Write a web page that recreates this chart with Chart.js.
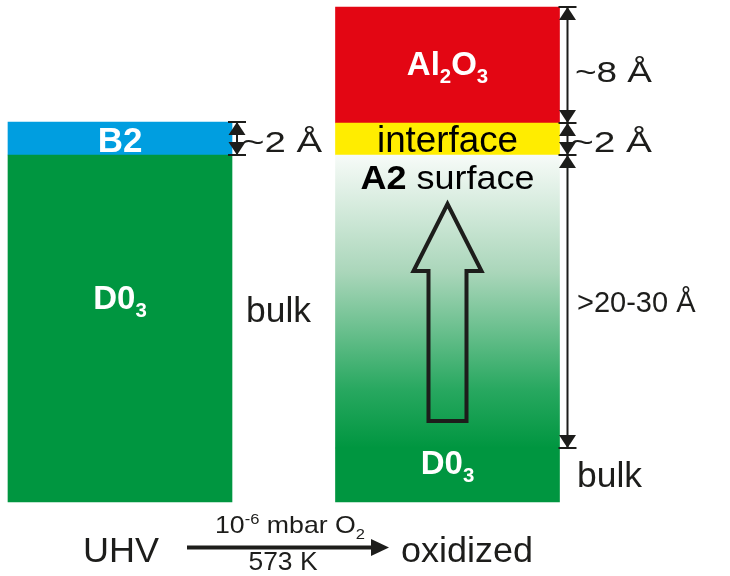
<!DOCTYPE html>
<html lang="en">
<head>
  <meta charset="utf-8">
  <title>UHV vs oxidized layer stack</title>
  <style>
    html, body { margin: 0; padding: 0; background: #fff; }
    #wrap { width: 730px; height: 576px; }
  </style>
</head>
<body>
  <div id="wrap"><canvas id="chart"></canvas></div>
  <script src="https://cdn.jsdelivr.net/npm/chart.js@4"></script>
  <script>
    // columns: 0 = UHV, 1 = oxidized
    var columns = ['UHV', 'oxidized'];
    // layers (depth in diagram units, 0 = top of the picture)
    var layerNames = ['B2', 'D0_3', 'Al_2O_3', 'interface', '*A2* surface', 'D0_3'];
    var layerColumn = [0, 0, 1, 1, 1, 1];
    var layerTop = [122, 155, 7, 123, 155, 448];
    var layerBottom = [155, 502, 123, 155, 448, 502];
    var thicknessLeft = ['~2 Å'];
    var thicknessRight = ['~8 Å', '~2 Å', '>20-30 Å'];
    var bulkLabel = 'bulk';
    var processTop = '10^-6 mbar O_2';
    var processBottom = '573 K';

    var FONT = '"Liberation Sans", Arial, sans-serif';
    var INK = '#1d1d1b';
    var layerColors = ['#009ee0', '#009640', '#e30613', '#ffed00', 'gradient', '#009640'];

    // split "Al_2O_3", "10^-6", "*A2*" into runs
    function parseRich(str) {
      var out = [], bold = false, i = 0;
      while (i < str.length) {
        var ch = str[i];
        if (ch === '*') { bold = !bold; i++; continue; }
        if (ch === '_') { out.push({ t: str[i + 1], mode: 'sub', bold: bold }); i += 2; continue; }
        if (ch === '^') {
          var j = i + 1, s = '';
          while (j < str.length && str[j] !== ' ') { s += str[j]; j++; }
          out.push({ t: s, mode: 'sup', bold: bold }); i = j; continue;
        }
        var last = out[out.length - 1];
        if (last && last.mode === 'n' && last.bold === bold) last.t += ch;
        else out.push({ t: ch, mode: 'n', bold: bold });
        i++;
      }
      return out;
    }

    function drawRich(ctx, str, x, y, o) {
      var runs = parseRich(str);
      var total = 0;
      runs.forEach(function (r) {
        var sz = r.mode === 'n' ? o.size : o.size * 0.62;
        r.font = ((o.bold || r.bold) ? 'bold ' : '') + sz + 'px ' + FONT;
        ctx.font = r.font;
        r.w = ctx.measureText(r.t).width;
        r.dy = r.mode === 'sub' ? o.size * 0.24 : (r.mode === 'sup' ? -o.size * 0.38 : 0);
        total += r.w;
      });
      var sx = o.width ? o.width / total : 1;
      var cx = o.align === 'center' ? x - total * sx / 2 : x;
      ctx.fillStyle = o.color || INK;
      ctx.textBaseline = 'alphabetic';
      ctx.textAlign = 'left';
      runs.forEach(function (r) {
        ctx.save();
        ctx.font = r.font;
        ctx.translate(cx, y + r.dy);
        ctx.scale(sx, 1);
        ctx.fillText(r.t, 0, 0);
        ctx.restore();
        cx += r.w * sx;
      });
    }

    function tri(ctx, x, tipY, dir, w, h) {
      // dir -1: pointing up, +1: pointing down
      ctx.beginPath();
      ctx.moveTo(x, tipY);
      ctx.lineTo(x - w / 2, tipY - dir * h);
      ctx.lineTo(x + w / 2, tipY - dir * h);
      ctx.closePath();
      ctx.fill();
    }

    function dimension(ctx, x, ys) {
      ctx.save();
      ctx.strokeStyle = INK;
      ctx.fillStyle = INK;
      ctx.lineWidth = 2;
      ctx.beginPath();
      ctx.moveTo(x, ys[0]);
      ctx.lineTo(x, ys[ys.length - 1]);
      ctx.stroke();
      ys.forEach(function (y, k) {
        ctx.beginPath();
        ctx.moveTo(x - 9, y);
        ctx.lineTo(x + 9, y);
        ctx.stroke();
        if (k > 0) tri(ctx, x, y, 1, 17, 13);
        if (k < ys.length - 1) tri(ctx, x, y, -1, 17, 13);
      });
      ctx.restore();
    }

    var overlay = {
      id: 'overlay',
      afterDatasetsDraw: function (chart) {
        var ctx = chart.ctx, xs = chart.scales.x, ys = chart.scales.y;
        var half = 112;
        var colX = columns.map(function (c, i) { return xs.getPixelForValue(i); });

        // layer names
        var labelBase = [152, 309, 75, 152, 189, 474];
        var labelSize = [35, 33, 33, 36, 33, 33];
        var labelWidth = [0, 0, 0, 141, 174, 0];
        layerNames.forEach(function (name, i) {
          var white = layerColors[i] !== '#ffed00' && layerColors[i] !== 'gradient';
          drawRich(ctx, name, colX[layerColumn[i]], labelBase[i], {
            size: labelSize[i], bold: white, color: white ? '#fff' : '#000',
            align: 'center', width: labelWidth[i] || null
          });
        });

        // hollow arrow in the gradient layer
        var ax = colX[1];
        ctx.save();
        ctx.strokeStyle = INK;
        ctx.lineWidth = 4;
        ctx.lineJoin = 'miter';
        ctx.beginPath();
        ctx.moveTo(ax, 204);
        ctx.lineTo(ax + 34, 271);
        ctx.lineTo(ax + 19, 271);
        ctx.lineTo(ax + 19, 421);
        ctx.lineTo(ax - 19, 421);
        ctx.lineTo(ax - 19, 271);
        ctx.lineTo(ax - 34, 271);
        ctx.closePath();
        ctx.stroke();
        ctx.restore();

        // thickness markers
        var leftYs = [ys.getPixelForValue(layerTop[0]), ys.getPixelForValue(layerBottom[0])];
        var rightYs = [layerTop[2], layerBottom[2], layerBottom[3], layerBottom[4]].map(function (v) {
          return ys.getPixelForValue(v);
        });
        dimension(ctx, colX[0] + half + 5, leftYs);
        dimension(ctx, colX[1] + half + 8, rightYs);

        drawRich(ctx, thicknessLeft[0], 242, 152, { size: 30, width: 80 });
        drawRich(ctx, thicknessRight[0], 575, 82, { size: 30, width: 77 });
        drawRich(ctx, thicknessRight[1], 571, 152, { size: 30, width: 81 });
        drawRich(ctx, thicknessRight[2], 577, 312, { size: 29 });

        drawRich(ctx, bulkLabel, 246, 322, { size: 35, width: 65 });
        drawRich(ctx, bulkLabel, 577, 487, { size: 35, width: 65 });

        // process line at the bottom
        drawRich(ctx, columns[0], 83, 562, { size: 35, width: 76 });
        drawRich(ctx, columns[1], 401, 562, { size: 35, width: 132 });
        ctx.save();
        ctx.strokeStyle = INK;
        ctx.fillStyle = INK;
        ctx.lineWidth = 4;
        ctx.beginPath();
        ctx.moveTo(187, 547.5);
        ctx.lineTo(375, 547.5);
        ctx.stroke();
        ctx.beginPath();
        ctx.moveTo(389, 547.5);
        ctx.lineTo(371, 539);
        ctx.lineTo(371, 556);
        ctx.closePath();
        ctx.fill();
        ctx.restore();
        drawRich(ctx, processTop, 215, 533, { size: 24, width: 150 });
        drawRich(ctx, processBottom, 283, 570, { size: 26, width: 69, align: 'center' });
      }
    };

    var ctx = document.getElementById('chart').getContext('2d');
    var chart = new Chart(ctx, {
      type: 'bar',
      data: {
        datasets: [{
          data: layerNames.map(function (n, i) {
            return { x: layerColumn[i], y: [layerTop[i], layerBottom[i]] };
          }),
          backgroundColor: function (c) {
            var col = layerColors[c.dataIndex];
            if (col !== 'gradient') return col;
            var ys = c.chart.scales.y;
            if (!ys || !c.chart.chartArea) return '#8fcaa3';
            var i = c.dataIndex;
            var g = c.chart.ctx.createLinearGradient(0, ys.getPixelForValue(layerTop[i]), 0, ys.getPixelForValue(layerBottom[i]));
            g.addColorStop(0, 'rgb(247,251,248)');
            g.addColorStop(0.4, 'rgb(170,214,186)');
            g.addColorStop(0.8, 'rgb(40,168,96)');
            g.addColorStop(1, 'rgb(0,150,64)');
            return g;
          },
          borderWidth: 0,
          barThickness: 224,
          grouped: false
        }]
      },
      options: {
        responsive: true,
        maintainAspectRatio: false,
        animation: false,
        layout: { padding: 0 },
        plugins: { legend: { display: false }, tooltip: { enabled: false } },
        scales: {
          x: { type: 'linear', display: false, offset: false, min: -0.3664, max: 1.8626 },
          y: { display: false, reverse: true, min: 0, max: 576 }
        }
      },
      plugins: [overlay]
    });
  </script>
</body>
</html>
